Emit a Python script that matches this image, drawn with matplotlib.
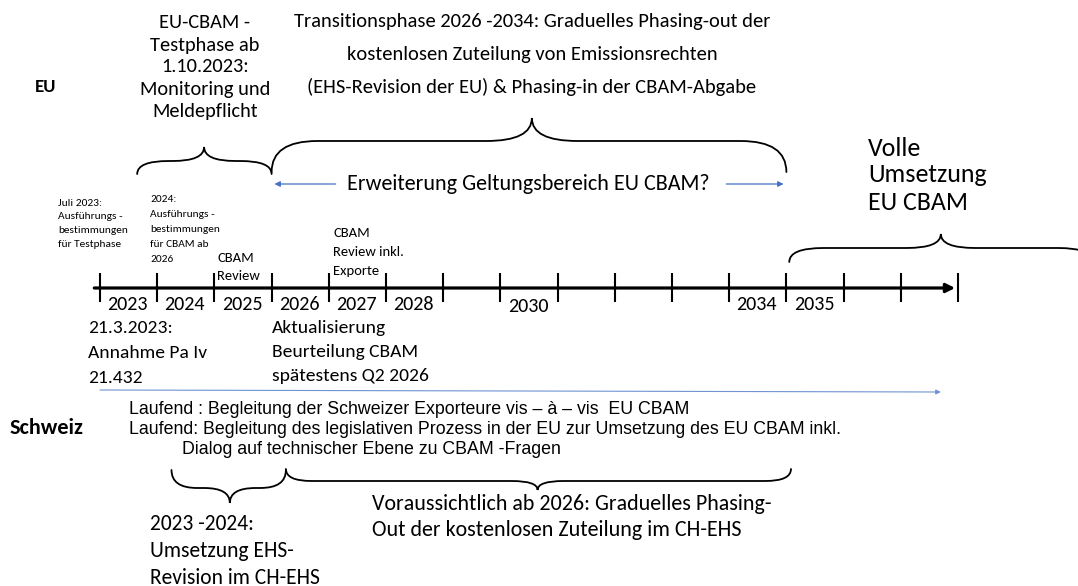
import matplotlib
matplotlib.use("Agg")
import matplotlib.pyplot as plt
from matplotlib.path import Path
from matplotlib.patches import PathPatch

# timeline data
tick_years = list(range(2023, 2039))
label_years = [2023, 2024, 2025, 2026, 2027, 2028, 2030, 2034, 2035]

# phases (start year, tip year, end year)
eu_testphase = (2023.65, 2024.82, 2026.0)
eu_transition = (2026.0, 2030.55, 2035.0)
eu_full = (2035.05, 2037.7, 2040.35)
ch_revision = (2024.25, 2025.27, 2026.25)
ch_phaseout = (2026.25, 2030.65, 2035.08)

scope_left = (2027.12, 2026.05)
scope_right = (2033.95, 2034.95)
ch_ongoing = (2023.0, 2037.7)

# fonts
sans = ["Carlito", "Lato", "DejaVu Sans"]
arial = ["Liberation Sans", "DejaVu Sans"]

fig = plt.figure(figsize=(10.78, 5.86), dpi=100)
ax = fig.add_axes([0, 0, 1, 1])
px = 57.2  # pixels per year
ax.set_xlim(2023 - 100 / px, 2023 + 978 / px)
ax.set_ylim(586, 0)
ax.axis("off")


def X(p):
    # pixel column -> year coordinate (for text placement)
    return 2023 + (p - 100) / px


def brace(span, y_end, y_flat, y_tip, r, lw=1.3):
    x0, xm, x1 = span
    verts = [(x0, y_end), (x0, y_flat), (x0 + r, y_flat),
             (xm - r, y_flat), (xm, y_flat), (xm, y_tip),
             (xm, y_flat), (xm + r, y_flat),
             (x1 - r, y_flat), (x1, y_flat), (x1, y_end)]
    codes = [Path.MOVETO, Path.CURVE3, Path.CURVE3, Path.LINETO,
             Path.CURVE3, Path.CURVE3, Path.CURVE3, Path.CURVE3,
             Path.LINETO, Path.CURVE3, Path.CURVE3]
    ax.add_patch(PathPatch(Path(verts, codes), fill=False, lw=lw,
                           edgecolor="black", capstyle="round"))


def lines(x, y0, dy, rows, **kw):
    for i, t in enumerate(rows):
        ax.text(x, y0 + i * dy, t, va="center", **kw)


# main time axis
y_axis = 288
ax.annotate("", xy=(2037.95, y_axis), xytext=(2022.9, y_axis),
            arrowprops=dict(arrowstyle="-|>", lw=2.3, color="black",
                            mutation_scale=13, shrinkA=0, shrinkB=0))
ax.vlines(tick_years, y_axis - 15, y_axis + 14, color="black", lw=1.5)
for yr in label_years:
    ax.text(yr + 0.13, 307 if yr == 2030 else 304, str(yr), fontsize=14.5,
            family=sans, ha="left", va="center")

# EU side
ax.text(X(46), 87, "EU", fontsize=13.5, fontweight="bold", family=sans,
        ha="center", va="center")
lines(X(205), 23, 22, ["EU-CBAM -", "Testphase ab", "1.10.2023:",
                       "Monitoring und", "Meldepflicht"],
      fontsize=14.7, family=sans, ha="center")
lines(X(532), 22, 32.5, ["Transitionsphase 2026 -2034: Graduelles Phasing-out der",
                         "kostenlosen Zuteilung von Emissionsrechten",
                         "(EHS-Revision der EU) & Phasing-in der CBAM-Abgabe"],
      fontsize=14.8, family=sans, ha="center")
lines(X(868), 148, 27, ["Volle", "Umsetzung", "EU CBAM"],
      fontsize=18.6, family=sans, ha="left")

brace(eu_testphase, 174, 161, 147, 0.55)
brace(eu_transition, 172, 141, 118, 0.8)
brace(eu_full, 262, 248, 234, 0.6)

ax.text(X(528), 184, "Erweiterung Geltungsbereich EU CBAM?", fontsize=15.9,
        family=sans, ha="center", va="center")
for a, b in (scope_left, scope_right):
    ax.annotate("", xy=(b, 184), xytext=(a, 184),
                arrowprops=dict(arrowstyle="-|>", lw=0.9, color="#4472C4",
                                mutation_scale=8, shrinkA=0, shrinkB=0))

lines(X(58), 203, 13.7, ["Juli 2023:", "Ausführungs -", "bestimmungen",
                         "für Testphase"], fontsize=8.2, family=sans, ha="left")
lines(X(150), 199, 15.2, ["2024:", "Ausführungs -", "bestimmungen",
                          "für CBAM ab", "2026"], fontsize=8.2, family=sans,
      ha="left")
lines(X(217), 258, 18, ["CBAM", "Review"], fontsize=10.5, family=sans,
      ha="left")
lines(X(333), 233, 19, ["CBAM", "Review inkl.", "Exporte"], fontsize=10.5,
      family=sans, ha="left")

lines(X(88), 328, 25, ["21.3.2023:", "Annahme Pa Iv", "21.432"],
      fontsize=14, family=sans, ha="left")
lines(X(272), 328, 24, ["Aktualisierung", "Beurteilung CBAM",
                        "spätestens Q2 2026"], fontsize=14, family=sans,
      ha="left")

# Switzerland side
ax.annotate("", xy=(ch_ongoing[1], 392), xytext=(ch_ongoing[0], 390),
            arrowprops=dict(arrowstyle="-|>", lw=0.8, color="#6F93D3",
                            mutation_scale=7, shrinkA=0, shrinkB=0))
ax.text(X(10), 428, "Schweiz", fontsize=16, fontweight="bold", family=sans,
        ha="left", va="center")
ax.text(X(129), 410, "Laufend : Begleitung der Schweizer Exporteure vis – à – vis  EU CBAM",
        fontsize=12.8, family=arial, ha="left", va="center")
ax.text(X(129), 429.5, "Laufend: Begleitung des legislativen Prozess in der EU zur Umsetzung des EU CBAM inkl.",
        fontsize=12.8, family=arial, ha="left", va="center")
ax.text(X(182), 449, "Dialog auf technischer Ebene zu CBAM -Fragen",
        fontsize=12.8, family=arial, ha="left", va="center")

brace(ch_revision, 470, 488, 503, 0.45)
brace(ch_phaseout, 469, 481, 490, 0.45)

lines(X(150), 524, 27, ["2023 -2024:", "Umsetzung EHS-", "Revision im CH-EHS"],
      fontsize=15.5, family=sans, ha="left")
lines(X(372), 504, 25.5, ["Voraussichtlich ab 2026: Graduelles Phasing-",
                          "Out der kostenlosen Zuteilung im CH-EHS"],
      fontsize=15.8, family=sans, ha="left")

fig.savefig("out.png", dpi=100)
